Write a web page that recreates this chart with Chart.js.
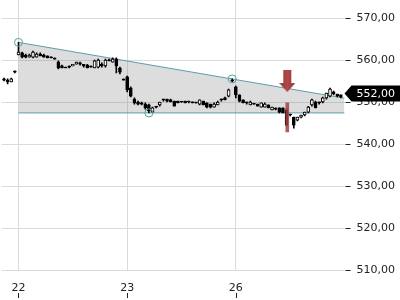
<!DOCTYPE html>
<html><head><meta charset="utf-8">
<script src="https://cdn.jsdelivr.net/npm/chart.js@4/dist/chart.umd.min.js"></script>
<style>html,body{margin:0;padding:0;background:#fff}canvas{display:block}</style>
</head><body>
<canvas id="c" width="400" height="300"></canvas>
<script>
// Intraday candles; slot = half-hour position, 30 slots per trading day (22 -> 0, 23 -> 30, 26 -> 60)
const slots = [-4,-3,-2,-1,0,1,2,3,4,5,6,7,8,9,10,11,12,13,14,15,16,17,18,19,20,21,22,23,24,25,26,27,28,29,
  30,31,32,33,34,35,36,37,38,39,40,41,42,43,44,45,46,47,48,49,50,51,52,53,54,55,56,57,58,59,
  60,61,62,63,64,65,66,67,68,69,70,71,72,73,74,75,76,77,78,79,80,81,82,83,84,85,86,87,88,89];
const opens = [555.5,555.2,554.8,557.1,561.2,561.7,561.2,560.7,560.7,560.7,561.4,561.2,561.0,560.5,560.2,559.5,558.6,558.3,558.3,558.6,559.0,559.3,559.0,558.8,558.3,558.1,558.3,559.0,558.6,560.0,559.5,560.2,558.1,555.2,
  556.0,553.3,550.7,550.0,549.8,549.5,549.3,547.6,548.8,549.3,550.5,550.7,550.5,550.2,550.2,550.0,550.2,550.0,550.0,549.8,549.5,550.2,549.8,549.5,548.8,549.3,550.5,551.0,551.4,555.2,
  553.6,551.7,550.5,549.8,549.3,549.5,549.5,548.8,548.8,549.3,548.1,548.3,548.6,548.6,548.1,546.9,546.4,545.7,546.4,546.9,547.6,549.3,550.0,549.8,550.0,551.0,551.4,552.4,551.9,551.7];
const highs = [555.7,555.5,555.7,557.4,564.2,561.9,561.4,561.4,562.1,561.7,561.7,561.4,561.0,560.7,560.5,559.8,558.8,558.3,558.6,559.0,559.5,559.5,559.0,559.0,558.6,560.0,560.2,559.3,560.2,560.2,560.5,560.5,558.3,555.5,
  556.2,553.6,551.0,550.2,550.0,549.8,549.5,548.8,549.0,550.0,550.5,550.7,550.7,550.2,550.2,550.1,550.2,550.2,550.0,549.9,550.5,550.2,549.8,549.5,549.8,550.2,550.7,551.2,553.1,555.5,
  553.8,551.7,550.5,550.0,550.2,549.6,549.5,549.8,549.8,549.3,548.8,548.6,548.6,548.6,548.3,547.1,546.4,546.4,546.9,547.6,549.0,550.7,550.2,550.0,551.2,552.1,553.3,552.6,551.9,551.7];
const lows = [555.0,554.3,554.8,556.9,561.2,560.5,560.5,560.7,560.5,560.7,561.0,560.7,560.5,560.5,560.2,557.9,558.1,558.1,558.1,558.6,559.0,558.8,558.3,558.1,558.3,558.1,558.1,558.3,558.3,559.8,559.5,556.9,556.7,555.2,
  552.4,551.2,549.5,549.3,549.3,548.3,547.4,547.6,548.6,549.0,550.2,550.0,550.0,549.0,549.8,549.9,549.8,549.8,549.8,549.7,549.3,549.3,548.6,548.6,548.8,549.3,550.2,550.5,551.2,554.8,
  551.0,550.0,549.8,549.5,549.3,549.4,549.0,548.8,548.8,548.6,548.1,548.1,547.4,547.4,544.3,546.7,543.8,545.5,546.2,546.7,547.4,549.0,548.6,549.5,549.8,550.7,551.2,551.7,551.2,551.0];
const closes = [555.2,554.8,555.5,557.1,561.9,560.7,560.7,561.2,561.9,561.4,561.0,560.7,560.5,560.5,560.2,558.1,558.1,558.1,558.3,559.0,559.5,559.0,558.6,558.1,558.3,559.8,560.0,558.6,560.0,559.8,560.2,558.6,557.1,555.2,
  552.9,551.4,549.8,549.5,549.5,548.6,547.9,548.6,548.8,550.0,550.5,550.2,550.0,549.0,549.8,550.0,549.8,550.0,549.8,549.8,550.5,549.3,548.8,548.8,549.5,550.0,550.5,550.5,552.9,555.0,
  551.7,550.2,549.8,549.8,550.0,549.5,549.0,549.8,549.5,548.6,548.8,548.3,547.6,547.4,544.5,546.9,544.5,546.4,546.9,547.6,548.8,550.5,548.6,549.8,551.0,552.1,553.1,551.9,551.4,551.2];

const dayTicks = [0, 30, 60];
const dayLabels = ['22', '23', '26'];
const priceTicks = [510, 520, 530, 540, 550, 560, 570];
const xRange = [-4.66, 90];
const yRange = [510, 574.29];

const trendX = [0, 90];
const trendY = [564.2, 550.9];
const supportX = [0, 90];
const supportY = [547.4, 547.4];
const touchX = [0, 36, 59];
const touchY = [564.2, 547.4, 555.5];
const signalX = 74.2;
const signalY = 555.0;
const signalRange = [542.9, 549.8];
const lastPrice = 552.00;

Chart.defaults.font.family = '"DejaVu Sans", sans-serif';
Chart.defaults.font.size = 11;

function makeArrow() {
  const c = document.createElement('canvas');
  c.width = 16; c.height = 22;
  const g = c.getContext('2d');
  const grd = g.createLinearGradient(0, 0, 16, 0);
  grd.addColorStop(0, '#8f3232');
  grd.addColorStop(0.5, '#b24a4a');
  grd.addColorStop(1, '#8f3232');
  g.fillStyle = grd;
  g.beginPath();
  g.moveTo(4, 0); g.lineTo(12, 0); g.lineTo(12, 13); g.lineTo(16, 13);
  g.lineTo(8, 22); g.lineTo(0, 13); g.lineTo(4, 13); g.closePath();
  g.fill();
  return c;
}

const fmt = v => v.toFixed(2).replace('.', ',');

const decor = {
  id: 'decor',
  afterDraw(chart) {
    const {ctx, chartArea: a, scales: {x, y}} = chart;
    ctx.save();
    ctx.strokeStyle = '#222';
    ctx.lineWidth = 1;
    ctx.beginPath();
    priceTicks.forEach(v => {
      const py = Math.round(y.getPixelForValue(v)) + 0.5;
      ctx.moveTo(a.right + 1, py); ctx.lineTo(a.right + 6, py);
    });
    dayTicks.forEach(v => {
      const px = Math.round(x.getPixelForValue(v)) + 0.5;
      ctx.moveTo(px, a.bottom + 23); ctx.lineTo(px, a.bottom + 28);
    });
    ctx.stroke();
    const py = y.getPixelForValue(lastPrice);
    ctx.fillStyle = '#000';
    ctx.beginPath();
    ctx.moveTo(a.right, py);
    ctx.lineTo(a.right + 7, py - 8);
    ctx.lineTo(chart.width, py - 8);
    ctx.lineTo(chart.width, py + 8);
    ctx.lineTo(a.right + 7, py + 8);
    ctx.closePath();
    ctx.fill();
    ctx.fillStyle = '#fff';
    ctx.font = '11px "DejaVu Sans"';
    ctx.textBaseline = 'middle';
    ctx.textAlign = 'left';
    ctx.fillText(fmt(lastPrice), a.right + 12, py + 0.5);
    ctx.restore();
  }
};

const teal = '#5c9ea4';

new Chart(document.getElementById('c'), {
  type: 'bar',
  data: {
    datasets: [
      {type: 'line', data: trendX.map((v, i) => ({x: v, y: trendY[i]})), borderColor: teal, borderWidth: 1,
       pointRadius: 0, fill: {target: 1}, backgroundColor: 'rgba(128,128,128,0.27)', order: 10},
      {type: 'line', data: supportX.map((v, i) => ({x: v, y: supportY[i]})), borderColor: teal, borderWidth: 1,
       pointRadius: 0, fill: false, order: 9},
      {type: 'bar', data: slots.map((s, i) => ({x: s, y: [lows[i], highs[i]]})), backgroundColor: '#000',
       barThickness: 1, minBarLength: 1, grouped: false, order: 6},
      {type: 'bar', data: slots.map((s, i) => ({x: s, y: [opens[i], closes[i]]})),
       backgroundColor: c => (closes[c.dataIndex] > opens[c.dataIndex] ? '#fff' : '#000'),
       borderColor: '#000', borderWidth: 1, borderSkipped: false, barThickness: 3, minBarLength: 1,
       grouped: false, order: 5},
      {type: 'scatter', data: touchX.map((v, i) => ({x: v, y: touchY[i]})), pointRadius: 4,
       pointBorderColor: teal, pointBackgroundColor: 'rgba(0,0,0,0)', pointBorderWidth: 1, order: 4},
      {type: 'bar', data: [{x: signalX, y: signalRange}], backgroundColor: 'rgba(165,65,65,0.85)',
       barThickness: 3, grouped: false, order: 3},
      {type: 'scatter', data: [{x: signalX, y: signalY}], pointStyle: makeArrow(), pointRadius: 10, order: 2}
    ]
  },
  options: {
    responsive: false,
    animation: false,
    devicePixelRatio: 1,
    layout: {autoPadding: false, padding: {left: 0, right: 5, top: 0, bottom: 0}},
    plugins: {legend: {display: false}, tooltip: {enabled: false}},
    scales: {
      x: {
        type: 'linear', min: xRange[0], max: xRange[1], offset: false,
        grid: {color: '#dadada', offset: false, drawTicks: false},
        border: {display: false},
        afterBuildTicks: s => { s.ticks = dayTicks.map(v => ({value: v})); },
        afterFit: s => { s.height = 30; },
        ticks: {padding: 11.5, color: '#222', maxRotation: 0, autoSkip: false,
          callback: v => { const i = dayTicks.indexOf(v); return i >= 0 ? dayLabels[i] : null; }}
      },
      y: {
        type: 'linear', position: 'right', min: yRange[0], max: yRange[1], beginAtZero: false,
        grid: {color: '#dadada', tickLength: 12, tickColor: 'rgba(0,0,0,0)'},
        border: {display: false},
        afterFit: s => { s.paddingTop = 0; s.paddingBottom = 0; },
        ticks: {stepSize: 10, padding: 0, color: '#222',
          callback: v => (priceTicks.includes(v) ? fmt(v) : null)}
      }
    }
  },
  plugins: [decor]
});
</script>
</body></html>
